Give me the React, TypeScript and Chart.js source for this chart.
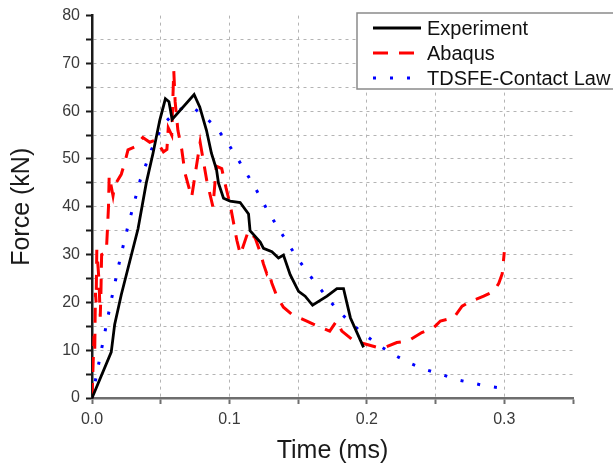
import React, { useEffect, useRef } from "react";
import { Chart, registerables } from "chart.js";

Chart.register(...registerables);

const FONT = '"Liberation Sans", Arial, Helvetica, sans-serif';

// Experiment (black solid)
const expTime = [0, 0.014, 0.0165, 0.0213, 0.0274, 0.0335, 0.0395, 0.0444, 0.0493, 0.0534, 0.056, 0.0583, 0.0743, 0.0784, 0.0833, 0.0869, 0.0906, 0.092, 0.0957, 0.1005, 0.1078, 0.1139, 0.115, 0.1224, 0.1248, 0.1309, 0.1357, 0.1393, 0.1442, 0.1503, 0.1551, 0.1605, 0.171, 0.1782, 0.183, 0.188, 0.1976];
const expForce = [0, 9.6, 15.4, 21.6, 28.5, 35.4, 45, 51.2, 58.1, 62.6, 62, 58.3, 63.5, 60.9, 56, 51.2, 47.8, 45, 41.8, 41.2, 40.9, 38.5, 35, 32.6, 31.3, 30.6, 29.3, 29.9, 25.8, 22.3, 21.3, 19.4, 21.3, 22.9, 22.9, 16.8, 10.6];

// Abaqus (red dashed)
const abqTime = [0, 0.0015, 0.002, 0.0025, 0.003, 0.0035, 0.005, 0.006, 0.0065, 0.007, 0.0104, 0.0112, 0.012, 0.0125, 0.0153, 0.0165, 0.0213, 0.0238, 0.0262, 0.031, 0.037, 0.042, 0.0465, 0.052, 0.0545, 0.0555, 0.058, 0.0595, 0.0605, 0.0625, 0.0653, 0.0677, 0.0725, 0.0787, 0.0835, 0.088, 0.0905, 0.0944, 0.0975, 0.1005, 0.1054, 0.108, 0.1138, 0.1187, 0.1224, 0.1248, 0.1272, 0.1284, 0.1309, 0.1345, 0.1393, 0.1454, 0.1563, 0.1636, 0.173, 0.178, 0.1818, 0.1903, 0.1988, 0.2073, 0.2134, 0.2218, 0.2304, 0.24, 0.2486, 0.2535, 0.2632, 0.2693, 0.2753, 0.285, 0.2923, 0.296, 0.2985, 0.3];
const abqForce = [0, 13, 10, 22, 20, 31, 25, 17, 22, 30, 30.5, 35, 40, 46.5, 42.3, 44.5, 46.8, 49.2, 51.9, 52.5, 54.5, 53.5, 54, 51.5, 52, 56.5, 55, 68.5, 62, 56, 52, 47, 42, 53.5, 45.5, 40, 48.5, 48, 44, 40.5, 33, 30, 35, 33.5, 30.5, 28, 26, 26.5, 24, 21.3, 19, 17.5, 16.1, 15.1, 14, 16.1, 14, 12, 11.3, 10.6, 10.6, 11.6, 12, 13.7, 14.7, 16.1, 16.8, 19.2, 20.2, 21.3, 22.3, 24, 26, 30.5];

// TDSFE-Contact Law (blue dotted)
const tdTime = [0, 0.0068, 0.0136, 0.0209, 0.0262, 0.0352, 0.0432, 0.048, 0.0529, 0.0617, 0.068, 0.0738, 0.0823, 0.0903, 0.0974, 0.104, 0.1097, 0.1158, 0.1216, 0.1272, 0.1333, 0.1389, 0.1449, 0.1508, 0.1576, 0.1636, 0.171, 0.1782, 0.1855, 0.1952, 0.2037, 0.211, 0.2207, 0.2311, 0.242, 0.2527, 0.2644, 0.2758, 0.287, 0.3];
const tdForce = [0, 10, 19.9, 29.7, 36, 45.7, 51.9, 55, 57.6, 60, 61, 60.7, 58.8, 56.6, 53.9, 51, 48.3, 45.4, 42.5, 39.5, 36.6, 34, 31.3, 28.7, 26, 23.7, 21.1, 18.5, 16.5, 14, 12.1, 10.6, 8.9, 7.3, 6, 5.1, 3.9, 3.2, 2.5, 2];

const seriesLabels = ["Experiment", "Abaqus", "TDSFE-Contact Law"];
const xTitle = "Time (ms)";
const yTitle = "Force (kN)";
const xMin = 0, xMax = 0.35, xStep = 0.05;
const yMin = 0, yMax = 80, yStep = 5;

const toPoints = (xs: number[], ys: number[]) => xs.map((x, i) => ({ x, y: ys[i] }));

const legendBox = {
  id: "legendBox",
  afterDraw(chart: any) {
    const ctx = chart.ctx;
    ctx.save();
    const x0 = 357, y0 = 13, h = 76;
    const w = chart.width - x0 + 10;
    ctx.fillStyle = "#ffffff";
    ctx.fillRect(x0, y0, w, h);
    ctx.strokeStyle = "#8a8a8a";
    ctx.lineWidth = 1.5;
    ctx.setLineDash([]);
    ctx.strokeRect(x0, y0, w, h);
    chart.data.datasets.forEach((ds: any, i: number) => {
      const y = 28 + i * 25;
      ctx.beginPath();
      ctx.setLineDash(ds.borderDash || []);
      ctx.lineDashOffset = 0;
      ctx.strokeStyle = ds.borderColor;
      ctx.lineWidth = ds.borderWidth;
      ctx.lineCap = "butt";
      ctx.moveTo(373, y);
      ctx.lineTo(421, y);
      ctx.stroke();
      ctx.setLineDash([]);
      ctx.fillStyle = "#111111";
      ctx.font = `20px ${FONT}`;
      ctx.textBaseline = "middle";
      ctx.textAlign = "left";
      ctx.fillText(ds.label, 427, y + 1);
    });
    ctx.restore();
  },
};

export default function App() {
  const ref = useRef<HTMLCanvasElement | null>(null);
  useEffect(() => {
    if (!ref.current) return;
    const gridColor = (c: any, maxV: number) =>
      c.tick && Math.abs(c.tick.value - maxV) < 1e-9 ? "rgba(0,0,0,0)" : "#b4b4b4";
    const chart = new Chart(ref.current, {
      type: "line",
      data: {
        datasets: [
          {
            label: seriesLabels[0],
            data: toPoints(expTime, expForce),
            borderColor: "#000000",
            borderWidth: 2.8,
            pointRadius: 0,
            tension: 0,
            fill: false,
          },
          {
            label: seriesLabels[1],
            data: toPoints(abqTime, abqForce),
            borderColor: "#ff0000",
            borderWidth: 3,
            borderDash: [15, 11],
            pointRadius: 0,
            tension: 0,
            fill: false,
          },
          {
            label: seriesLabels[2],
            data: toPoints(tdTime, tdForce),
            borderColor: "#0000ff",
            borderWidth: 3,
            borderDash: [3, 14],
            pointRadius: 0,
            tension: 0,
            fill: false,
          },
        ],
      },
      options: {
        animation: false,
        responsive: false,
        maintainAspectRatio: false,
        devicePixelRatio: 1,
        layout: { padding: { top: 12, right: 40, left: 0, bottom: 0 } },
        plugins: {
          legend: { display: false },
          tooltip: { enabled: false },
        },
        scales: {
          x: {
            type: "linear",
            min: xMin,
            max: xMax,
            afterFit: (s: any) => {
              s.height = 73;
            },
            ticks: {
              stepSize: xStep,
              autoSkip: false,
              maxRotation: 0,
              padding: 6,
              color: "#3a3a3a",
              font: { family: FONT, size: 16 },
              callback: (v: any) => {
                const r = Math.round(Number(v) * 20);
                return r % 2 === 0 ? (r / 20).toFixed(1) : "";
              },
            },
            grid: {
              color: (c: any) => gridColor(c, xMax),
              lineWidth: 1,
              tickColor: "#6e6e6e",
              tickLength: 6,
              tickWidth: 2,
            },
            border: { color: "#6e6e6e", width: 2.5, dash: [3, 4] },
            title: {
              display: true,
              text: xTitle,
              color: "#1a1a1a",
              font: { family: FONT, size: 25 },
              padding: { top: 0, bottom: 5 },
            },
          },
          y: {
            type: "linear",
            min: yMin,
            max: yMax,
            afterFit: (s: any) => {
              s.width = 92;
            },
            ticks: {
              stepSize: yStep,
              autoSkip: false,
              padding: 6,
              color: "#3a3a3a",
              font: { family: FONT, size: 16 },
              callback: (v: any) => (Number(v) % 10 === 0 ? String(v) : ""),
            },
            grid: {
              color: (c: any) => gridColor(c, yMax),
              lineWidth: 1,
              tickColor: "#1a1a1a",
              tickLength: 6,
              tickWidth: 2,
            },
            border: { color: "#1a1a1a", width: 2.5, dash: [3, 4] },
            title: {
              display: true,
              text: yTitle,
              color: "#1a1a1a",
              font: { family: FONT, size: 25 },
              padding: { top: 7, bottom: 0 },
            },
          },
        },
      },
      plugins: [legendBox],
    } as any);
    return () => chart.destroy();
  }, []);
  return (
    <div style={{ position: "fixed", left: 0, top: 0, width: 613, height: 471, background: "#ffffff" }}>
      <canvas ref={ref} width={613} height={471} style={{ display: "block", width: 613, height: 471 }} />
    </div>
  );
}
